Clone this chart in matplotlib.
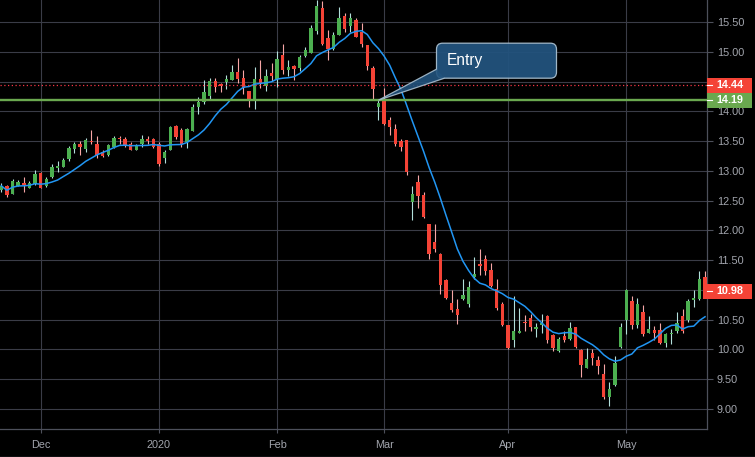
import numpy as np
import pandas as pd
import matplotlib
matplotlib.use("Agg")
import matplotlib.pyplot as plt
import matplotlib.transforms as mtransforms
from matplotlib.patches import Rectangle, FancyBboxPatch, Polygon
from matplotlib.lines import Line2D

plt.rcParams['font.family'] = ['Liberation Sans', 'DejaVu Sans']

# daily bars, 20 Nov 2019 - 21 May 2020 (US trading days)
holidays = ["2019-11-28", "2019-12-25", "2020-01-01", "2020-01-20", "2020-02-17", "2020-04-10"]
dates = pd.bdate_range("2019-11-20", "2020-05-21", freq="C", holidays=holidays)

opens = [12.68, 12.75, 12.61, 12.75, 12.80, 12.72, 12.78, 12.97, 12.74, 12.89,
         13.05, 13.07, 13.20, 13.37, 13.45, 13.37, 13.51, 13.45, 13.32, 13.26,
         13.41, 13.56, 13.53, 13.46, 13.36, 13.46, 13.53, 13.53, 13.46, 13.22,
         13.36, 13.76, 13.69, 13.48, 13.68, 14.08, 14.16, 14.26, 14.51, 14.46,
         14.49, 14.53, 14.67, 14.56, 14.34, 14.20, 14.55, 14.43, 14.65, 14.54,
         14.95, 14.70, 14.76, 14.73, 14.93, 14.99, 15.35, 15.74, 15.24, 15.05,
         15.29, 15.61, 15.44, 15.54, 15.34, 15.12, 14.73, 14.08, 14.19, 13.86,
         13.70, 13.50, 13.52, 12.48, 12.81, 12.60, 12.11, 11.80, 11.61, 11.17,
         10.78, 10.68, 10.84, 10.76, 11.21, 11.43, 11.52, 11.33, 11.01, 10.77,
         10.41, 10.16, 10.28, 10.46, 10.52, 10.34, 10.41, 10.56, 10.24, 9.98,
         10.22, 10.18, 10.37, 9.99, 9.69, 9.93, 9.82, 9.58, 9.20, 9.40,
         10.04, 10.49, 10.81, 10.41, 10.62, 10.28, 10.33, 10.33, 10.10, 10.25,
         10.30, 10.56, 10.50, 10.83, 10.85, 11.21]
highs = [12.80, 12.76, 12.86, 12.85, 12.89, 12.83, 13.01, 12.98, 12.90, 13.11,
         13.17, 13.21, 13.42, 13.49, 13.50, 13.56, 13.69, 13.59, 13.35, 13.45,
         13.59, 13.59, 13.57, 13.48, 13.46, 13.60, 13.59, 13.55, 13.48, 13.35,
         13.76, 13.78, 13.73, 13.72, 14.12, 14.24, 14.53, 14.56, 14.57, 14.48,
         14.61, 14.78, 14.90, 14.69, 14.34, 14.75, 14.87, 14.72, 14.82, 15.02,
         15.14, 14.87, 14.79, 14.95, 15.09, 15.45, 15.88, 15.85, 15.37, 15.34,
         15.76, 15.65, 15.65, 15.57, 15.49, 15.12, 14.77, 14.19, 14.39, 13.90,
         13.79, 13.53, 13.52, 12.75, 12.93, 12.65, 12.11, 12.10, 11.62, 11.18,
         10.99, 10.85, 11.18, 11.15, 11.56, 11.68, 11.59, 11.46, 11.18, 10.80,
         10.41, 10.89, 10.69, 10.58, 10.59, 10.45, 10.60, 10.58, 10.25, 10.21,
         10.30, 10.46, 10.38, 10.00, 10.02, 10.00, 9.88, 9.76, 9.45, 9.88,
         10.45, 11.01, 10.90, 10.86, 10.74, 10.56, 10.39, 10.45, 10.28, 10.35,
         10.62, 10.67, 10.84, 10.99, 11.31, 11.32]
lows = [12.65, 12.57, 12.61, 12.74, 12.65, 12.72, 12.76, 12.72, 12.73, 12.88,
        12.99, 13.06, 13.17, 13.31, 13.26, 13.32, 13.46, 13.21, 13.23, 13.25,
        13.39, 13.45, 13.41, 13.35, 13.35, 13.40, 13.45, 13.39, 13.09, 13.13,
        13.35, 13.54, 13.40, 13.39, 13.67, 13.96, 14.12, 14.20, 14.33, 14.33,
        14.38, 14.53, 14.48, 14.29, 14.08, 14.05, 14.39, 14.34, 14.51, 14.41,
        14.63, 14.59, 14.53, 14.68, 14.92, 14.98, 15.31, 15.11, 14.87, 15.03,
        15.28, 15.34, 15.33, 15.25, 15.08, 14.69, 14.21, 13.85, 13.77, 13.60,
        13.42, 13.34, 12.94, 12.18, 12.38, 12.21, 11.52, 11.64, 10.93, 10.85,
        10.62, 10.43, 10.83, 10.71, 11.19, 11.25, 11.25, 11.04, 10.66, 10.39,
        10.01, 10.04, 10.27, 10.30, 10.30, 10.21, 10.27, 10.11, 9.98, 9.96,
        10.13, 10.16, 10.03, 9.54, 9.68, 9.74, 9.59, 9.17, 9.05, 9.38,
        10.03, 10.26, 10.34, 10.36, 10.22, 10.27, 10.16, 10.09, 10.04, 10.09,
        10.27, 10.28, 10.46, 10.72, 10.83, 10.86]
closes = [12.75, 12.60, 12.83, 12.81, 12.76, 12.80, 12.95, 12.72, 12.86, 13.06,
          13.08, 13.18, 13.39, 13.45, 13.41, 13.52, 13.49, 13.27, 13.25, 13.43,
          13.55, 13.53, 13.43, 13.36, 13.44, 13.53, 13.51, 13.41, 13.12, 13.32,
          13.74, 13.57, 13.45, 13.70, 14.08, 14.16, 14.33, 14.51, 14.42, 14.43,
          14.55, 14.66, 14.55, 14.39, 14.20, 14.54, 14.48, 14.60, 14.60, 14.88,
          14.70, 14.74, 14.72, 14.92, 15.03, 15.40, 15.78, 15.13, 15.05, 15.29,
          15.57, 15.39, 15.58, 15.26, 15.14, 14.77, 14.38, 14.14, 13.79, 13.74,
          13.45, 13.41, 12.98, 12.61, 12.58, 12.23, 11.61, 11.69, 11.08, 10.87,
          10.66, 10.58, 10.91, 11.05, 11.27, 11.40, 11.32, 11.07, 10.69, 10.41,
          10.02, 10.30, 10.31, 10.45, 10.38, 10.38, 10.45, 10.16, 10.02, 10.17,
          10.16, 10.36, 10.04, 9.73, 9.83, 9.85, 9.72, 9.20, 9.34, 9.77,
          10.37, 10.99, 10.41, 10.77, 10.25, 10.34, 10.27, 10.10, 10.25, 10.27,
          10.45, 10.30, 10.81, 10.86, 11.19, 10.98]

ma_period = 10
entry_date = "2020-02-28"
entry_price = 14.19
stop_price = 14.44

BG = "black"
GRID = "#3a3c47"
AXIS = "#4d505b"
TXT = "#a3a6ae"
UP, DOWN = "#4caf50", "#f44336"
UP_WICK, DOWN_WICK = "#b2dfdb", "#f7a6a6"
TAG_GREEN = "#6aa84f"

o = np.array(opens)
h = np.array(highs)
l = np.array(lows)
c = np.array(closes)
x = np.arange(len(dates))
up = c >= o

fig = plt.figure(figsize=(7.55, 4.57), dpi=100, facecolor=BG)
ax = fig.add_axes([0, 28 / 457, 707 / 755, 429 / 457])
ax.set_facecolor(BG)

ax.vlines(x, l, h, colors=np.where(up, UP_WICK, DOWN_WICK), lw=0.8, zorder=3)
ax.bar(x, np.maximum(np.abs(c - o), 0.015), bottom=np.minimum(o, c), width=0.6,
       color=np.where(up, UP, DOWN), zorder=4)

ma = pd.Series(c).rolling(ma_period, min_periods=1).mean()
ax.plot(x, ma, color="#2196f3", lw=1.1, zorder=5)

ax.axhline(entry_price, color=TAG_GREEN, lw=1.7, zorder=6)
ax.axhline(stop_price, color="#f23645", lw=0.9, ls=(0, (1, 2)), zorder=6)

ax.set_xlim(-0.23, 125.35)
ax.set_ylim(8.66, 15.875)

# month ticks at first bar of each month
s = pd.Series(x, index=dates)
firsts = s.groupby([dates.year, dates.month]).first().iloc[1:]
labels = []
for d in dates[firsts.values]:
    labels.append(str(d.year) if d.month == 1 else d.strftime("%b"))
ax.set_xticks(firsts.values)
ax.set_xticklabels(labels)

# price ticks; the 14.50 label sits under the stop tag, so leave it blank
yticks = np.arange(9.0, 15.51, 0.5)
ax.set_yticks(yticks)
ax.set_yticklabels(["" if abs(v - 14.5) < 1e-6 else f"{v:.2f}" for v in yticks])
ax.yaxis.tick_right()
ax.tick_params(axis="y", length=4, pad=3, colors=AXIS, labelcolor=TXT, labelsize=7.8)
ax.tick_params(axis="x", length=3, pad=5, colors=AXIS, labelcolor=TXT, labelsize=7.8)
ax.grid(True, color=GRID, lw=0.8)
ax.set_axisbelow(True)
for side in ["top", "left"]:
    ax.spines[side].set_visible(False)
for side in ["right", "bottom"]:
    ax.spines[side].set_color(AXIS)
    ax.spines[side].set_linewidth(0.9)

px = mtransforms.IdentityTransform()


def price_tag(price, color, x0):
    y = ax.transData.transform((0, price))[1]
    fig.add_artist(Rectangle((x0, y - 7.5), 752 - x0, 15, transform=px,
                             fc=color, ec="none", zorder=10))
    fig.add_artist(Line2D([707, 712], [y, y], transform=px, color="white", lw=0.8, zorder=11))
    fig.text(730, y, f"{price:.2f}", transform=px, ha="center", va="center",
             color="white", fontweight="bold", fontsize=7.8, zorder=11)


price_tag(stop_price, "#f44336", 707)
price_tag(entry_price, TAG_GREEN, 707)
price_tag(closes[-1], "#f44336", 703)

# Entry callout
ei = dates.get_loc(pd.Timestamp(entry_date))
tx, ty = ax.transData.transform((ei, entry_price))
box_fc, box_ec = "#22537d", "#a9bfcf"
box = FancyBboxPatch((tx + 58, ty + 22), 120, 35, boxstyle="round,pad=0,rounding_size=6",
                     transform=px, fc=box_fc, ec=box_ec, lw=0.9, alpha=0.95, zorder=12)
fig.add_artist(box)
wedge = Polygon([(tx + 58, ty + 31), (tx, ty), (tx + 66, ty + 22)], closed=False,
                transform=px, fc=box_fc, ec=box_ec, lw=0.9, alpha=0.9, zorder=13)
fig.add_artist(wedge)
fig.text(tx + 68, ty + 39.5, "Entry", transform=px, ha="left", va="center",
         color="white", fontsize=11.2, zorder=14)

fig.add_artist(Line2D([0, 755], [0.5, 0.5], transform=px, color=AXIS, lw=1))

fig.savefig("out.png", dpi=100, facecolor=BG)
